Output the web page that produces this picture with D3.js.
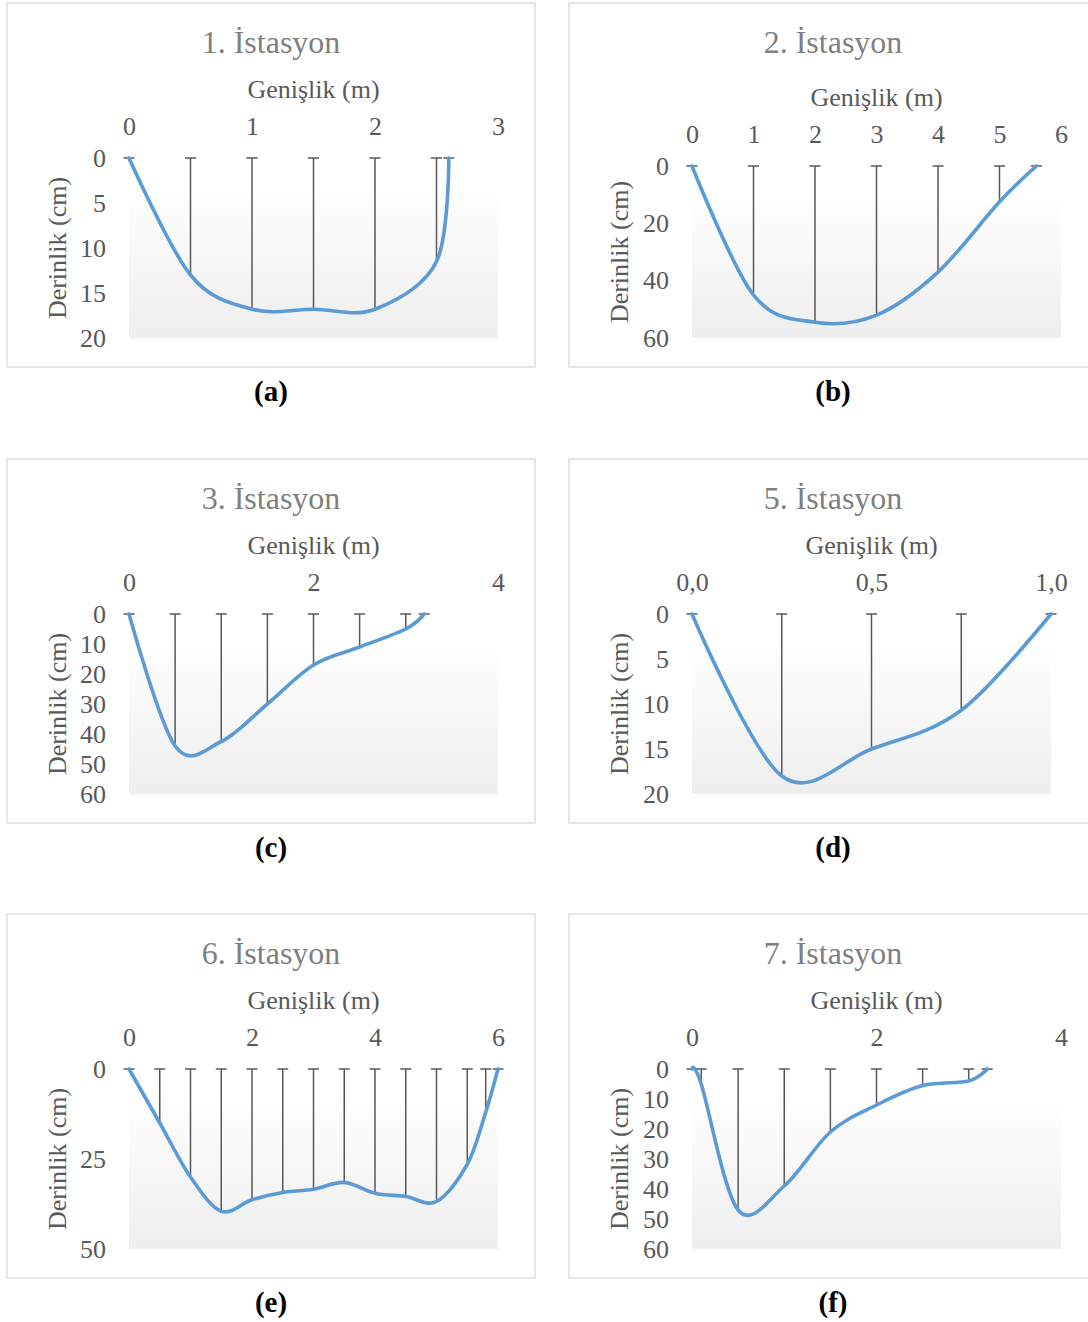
<!DOCTYPE html>
<html>
<head>
<meta charset="utf-8">
<script src="https://cdn.jsdelivr.net/npm/d3@7"></script>
<style>
  body { margin: 0; background: #fff; }
  svg text { font-family: "Liberation Serif", "Times New Roman", serif; }
</style>
</head>
<body>
<svg id="chart" width="1088" height="1322"></svg>
<script>
// station titles and sub labels
const titles = ["1. İstasyon", "2. İstasyon", "3. İstasyon", "5. İstasyon", "6. İstasyon", "7. İstasyon"];
const subLabels = ["(a)", "(b)", "(c)", "(d)", "(e)", "(f)"];

// width (m) and depth (cm) per station
const widthA = [0, 0.5, 1, 1.5, 2, 2.5, 2.6];
const depthA = [0, 13, 16.8, 16.8, 16.8, 11.5, 0];
const widthB = [0, 1, 2, 3, 4, 5, 5.6];
const depthB = [0, 45, 54.5, 52, 37, 12.5, 0];
const widthC = [0, 0.5, 1, 1.5, 2, 2.5, 3, 3.2];
const depthC = [0, 44, 42.5, 30, 17, 11, 5, 0];
const widthD = [0, 0.25, 0.5, 0.75, 1.0];
const depthD = [0, 18, 15, 10.7, 0];
const widthE = [0, 0.5, 1, 1.5, 2, 2.5, 3, 3.5, 4, 4.5, 5, 5.5, 5.8, 6];
const depthE = [0, 15, 30, 39.5, 36.3, 34.3, 33.4, 31.5, 34.5, 35.4, 36.8, 26.5, 12, 0];
const widthF = [0, 0.1, 0.5, 1, 1.5, 2, 2.5, 3, 3.2];
const depthF = [0, 5, 47, 39, 21, 12, 5.5, 4, 0];

// axis ranges and ticks
const xMax = [3, 6, 4, 1, 6, 4];
const yMax = [20, 60, 60, 20, 50, 60];
const xTicksA = [0, 1, 2, 3];
const xTicksB = [0, 1, 2, 3, 4, 5, 6];
const xTicksC = [0, 2, 4];
const xTicksD = [0, 0.5, 1];
const xTicksE = [0, 2, 4, 6];
const xTicksF = [0, 2, 4];
const yTicksA = [0, 5, 10, 15, 20];
const yTicksB = [0, 20, 40, 60];
const yTicksC = [0, 10, 20, 30, 40, 50, 60];
const yTicksD = [0, 5, 10, 15, 20];
const yTicksE = [0, 25, 50];
const yTicksF = [0, 10, 20, 30, 40, 50, 60];

const widths = [widthA, widthB, widthC, widthD, widthE, widthF];
const depths = [depthA, depthB, depthC, depthD, depthE, depthF];
const xTicks = [xTicksA, xTicksB, xTicksC, xTicksD, xTicksE, xTicksF];
const yTicks = [yTicksA, yTicksB, yTicksC, yTicksD, yTicksE, yTicksF];

// layout
const colX = [7, 569];
const plotLeft = [129, 692];
const plotRight = [498, 1061, 498, 1051, 498, 1061];
const rowTop = [0, 456, 911];
const frameW = 528, frameH = 364;

const trLocale = d3.formatLocale({ decimal: ",", thousands: ".", grouping: [3], currency: ["", ""] });

const svg = d3.select("#chart");
const defs = svg.append("defs");
const grad = defs.append("linearGradient").attr("id", "plotbg")
  .attr("x1", 0).attr("y1", 0).attr("x2", 0).attr("y2", 1);
grad.append("stop").attr("offset", "0%").attr("stop-color", "#ffffff");
grad.append("stop").attr("offset", "15%").attr("stop-color", "#ffffff");
grad.append("stop").attr("offset", "100%").attr("stop-color", "#eeeeee");

titles.forEach((title, i) => {
  const col = i % 2, row = Math.floor(i / 2);
  const fx = colX[col], fy = rowTop[row] + 3;
  const top = rowTop[row] + (i === 1 ? 166 : 158);
  const bottom = rowTop[row] + 338;
  const left = plotLeft[col], right = plotRight[i];

  const xScale = d3.scaleLinear().domain([0, xMax[i]]).range([left, right]);
  const yScale = d3.scaleLinear().domain([0, yMax[i]]).range([top, bottom]);

  svg.append("rect")
    .attr("x", fx).attr("y", fy).attr("width", frameW).attr("height", frameH)
    .attr("fill", "#fff").attr("stroke", "#d9d9d9").attr("stroke-width", 1.3);

  svg.append("rect")
    .attr("x", left).attr("y", top).attr("width", right - left).attr("height", bottom - top)
    .attr("fill", "url(#plotbg)");

  svg.append("text")
    .attr("x", fx + frameW / 2).attr("y", rowTop[row] + 53)
    .attr("text-anchor", "middle").attr("font-size", 32).attr("fill", "#7f7f7f")
    .text(title);

  svg.append("text")
    .attr("x", (left + right) / 2).attr("y", top - 60)
    .attr("text-anchor", "middle").attr("font-size", 26).attr("fill", "#595959")
    .text("Genişlik (m)");

  svg.append("text")
    .attr("transform", `translate(${fx + 50}, ${(top + bottom) / 2}) rotate(-90)`)
    .attr("dy", "0.35em")
    .attr("text-anchor", "middle").attr("font-size", 26).attr("fill", "#595959")
    .text("Derinlik (cm)");

  const xFmt = i === 3 ? trLocale.format(".1f") : d3.format("d");
  const xAxis = d3.axisTop(xScale).tickValues(xTicks[i]).tickFormat(xFmt)
    .tickSize(0).tickPadding(23);
  const gx = svg.append("g").attr("transform", `translate(0, ${top})`).call(xAxis);
  const yAxis = d3.axisLeft(yScale).tickValues(yTicks[i]).tickFormat(d3.format("d"))
    .tickSize(0).tickPadding(23);
  const gy = svg.append("g").attr("transform", `translate(${left}, 0)`).call(yAxis);
  [gx, gy].forEach(g => {
    g.select(".domain").remove();
    g.attr("font-size", null).attr("font-family", null);
    g.selectAll("text").attr("font-size", 26).attr("fill", "#595959");
  });

  const pts = widths[i].map((w, k) => ({ w, d: depths[i][k] }));

  // depth bars from the surface down to each measurement
  const bars = svg.append("g").attr("stroke", "#595959").attr("stroke-width", 1.5);
  bars.selectAll("line.bar").data(pts).join("line")
    .attr("x1", p => xScale(p.w)).attr("x2", p => xScale(p.w))
    .attr("y1", yScale(0)).attr("y2", p => yScale(p.d));
  bars.selectAll("line.cap").data(pts).join("line")
    .attr("x1", p => xScale(p.w) - 5.5).attr("x2", p => xScale(p.w) + 5.5)
    .attr("y1", yScale(0)).attr("y2", yScale(0));

  const line = d3.line().x(p => xScale(p.w)).y(p => yScale(p.d)).curve(d3.curveCardinal);
  svg.append("path").datum(pts)
    .attr("d", line).attr("fill", "none")
    .attr("stroke", "#5b9bd5").attr("stroke-width", 3.6).attr("stroke-linecap", "round");

  svg.append("text")
    .attr("x", fx + frameW / 2).attr("y", rowTop[row] + 401)
    .attr("text-anchor", "middle").attr("font-size", 29).attr("font-weight", "bold")
    .attr("fill", "#000")
    .text(subLabels[i]);
});
</script>
</body>
</html>
